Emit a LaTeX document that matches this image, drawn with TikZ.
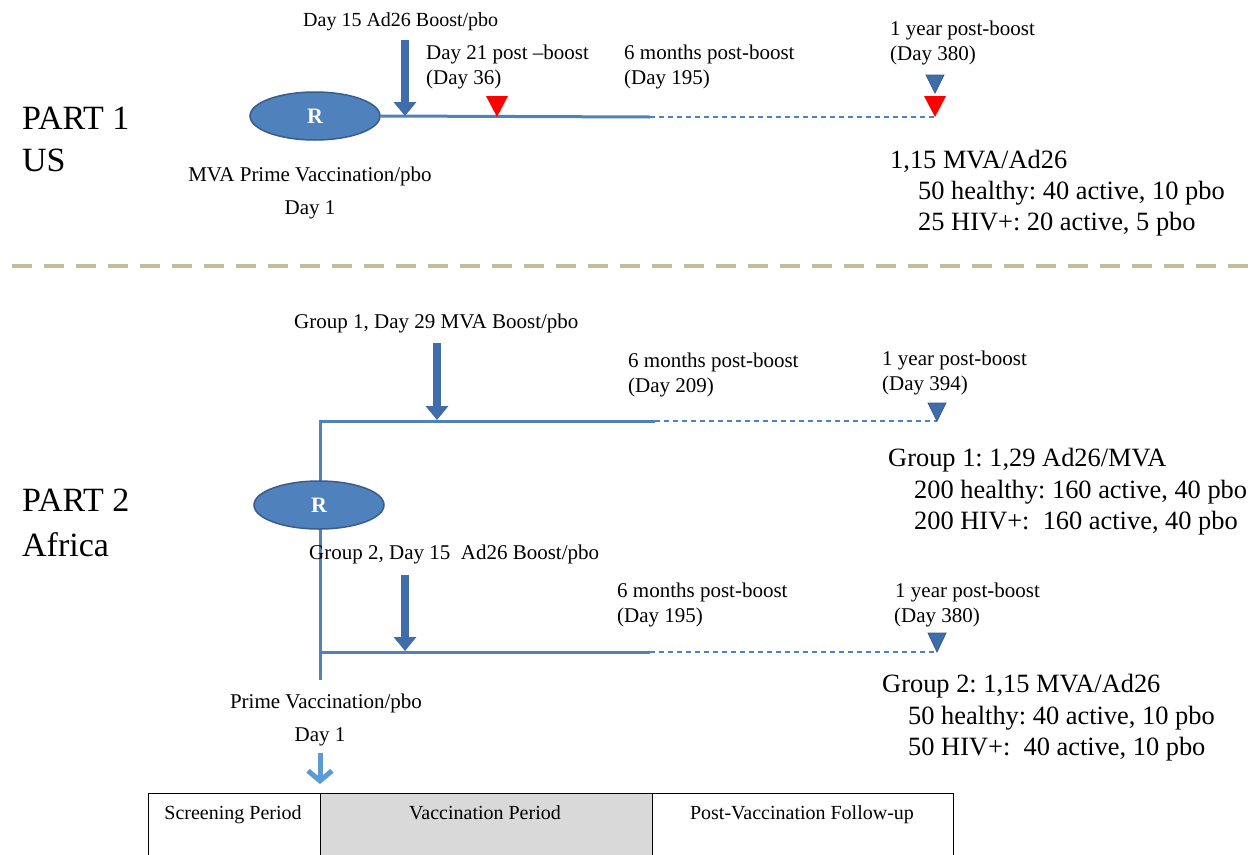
\documentclass[tikz,border=0pt]{standalone}
\usepackage{fontspec}
\setmainfont{Liberation Serif}
\usetikzlibrary{shapes.geometric,arrows.meta}
\frenchspacing
\definecolor{lineblue}{HTML}{4F81BD}
\definecolor{arrowblue}{HTML}{3F6CAA}
\definecolor{darkblue}{HTML}{385D8A}
\definecolor{sepcol}{HTML}{C4BD97}
\definecolor{lightblue}{HTML}{5B9BD5}
\definecolor{graycell}{HTML}{D9D9D9}
\tikzset{
  lbl/.style={font=\fontsize{21}{24}\selectfont, inner sep=0pt, anchor=west, text height=16.8pt, text depth=2.9pt},
  lblc/.style={lbl, anchor=center},
  lblsm/.style={lbl, font=\fontsize{20}{23}\selectfont, text height=16pt, text depth=2.8pt},
  grp/.style={font=\fontsize{26.4}{30}\selectfont, inner sep=0pt, anchor=west, text height=21.1pt, text depth=3.7pt},
  part/.style={font=\fontsize{34}{38}\selectfont, inner sep=0pt, anchor=west, text height=27.2pt, text depth=4.8pt},
  cell/.style={font=\fontsize{20}{23}\selectfont, inner sep=0pt, anchor=center, text height=16pt, text depth=2.8pt},
  rnode/.style={ellipse, draw=darkblue, line width=1.5pt, fill=lineblue, minimum width=130pt, minimum height=48pt, inner sep=0pt, text=white, font=\fontsize{22}{24}\selectfont\bfseries},
  solidline/.style={draw=lineblue, line width=3pt},
  dashline/.style={draw=lineblue, line width=1.3pt, dash pattern=on 5pt off 4pt},
  boost/.style={draw=arrowblue, line width=8pt, -{Triangle[width=22pt,length=14pt]}},
  bluetri/.style={fill=arrowblue, draw=darkblue, line width=0.8pt},
  redtri/.style={fill=red},
}
\begin{document}
\begin{tikzpicture}[x=1pt,y=-1pt]
\useasboundingbox (0,0) rectangle (1257,854);
\fill[white] (0,0) rectangle (1257,854);

% ---------------- PART 1 ----------------
\node[part] (p1a) at (22,118) {PART 1};
\node[part] (p1b) at (22,160) {US};

\coordinate (p1solid) at (650,117);
\coordinate (p1end) at (935,117);
\node[rnode] (R1) at (315,116) {R};
\draw[solidline] (R1.east) -- (p1solid);
\draw[dashline] (p1solid) -- (p1end);

\coordinate (a1top) at (405,40);
\coordinate (a1tip) at (405,116);
\draw[boost] (a1top) -- (a1tip);

\path[redtri] (497,117) -- (486,96) -- (508,96) -- cycle;
\path[bluetri] (935,93) -- (926,75) -- (944,75) -- cycle;
\path[redtri] (935,117) -- (924,96) -- (946,96) -- cycle;

\node[lblsm] (t1) at (303,20) {Day 15 Ad26 Boost/pbo};
\node[lbl] (t2) at (426,53) {Day 21 post –boost};
\node[lbl] (t3) at (426,78) {(Day 36)};
\node[lbl] (t4) at (624,53) {6 months post-boost};
\node[lbl] (t5) at (624,78) {(Day 195)};
\node[lbl] (t6) at (890,29) {1 year post-boost};
\node[lbl] (t7) at (890,54) {(Day 380)};
\node[lblc] (t8) at (310,175) {MVA Prime Vaccination/pbo};
\node[lblc] (t9) at (310,208) {Day 1};
\node[grp] (g1a) at (890,160) {1,15 MVA/Ad26};
\node[grp] (g1b) at (918,191) {50 healthy: 40 active, 10 pbo};
\node[grp] (g1c) at (918,222) {25 HIV+: 20 active, 5 pbo};

% separator
\coordinate (sepL) at (12,266);
\coordinate (sepR) at (1257,266);
\draw[draw=sepcol, line width=4pt, dash pattern=on 20pt off 12pt] (sepL) -- (sepR);

% ---------------- PART 2 ----------------
\node[part] (p2a) at (22,500) {PART 2};
\node[part] (p2b) at (22,545) {Africa};

\coordinate (vtop) at (320,421);
\coordinate (vbot) at (320,680);
\coordinate (vlow) at (320,652);
\coordinate (g1solid) at (655,421);
\coordinate (g1end) at (937,421);
\coordinate (g2solid) at (650,652);
\coordinate (g2end) at (937,652);
\draw[solidline] (vbot) -- (vtop) -- (g1solid);
\draw[dashline] (g1solid) -- (g1end);
\draw[solidline] (vlow) -- (g2solid);
\draw[dashline] (g2solid) -- (g2end);
\node[rnode] (R2) at (319,505) {R};

\coordinate (a2top) at (437,343);
\coordinate (a2tip) at (437,420);
\draw[boost] (a2top) -- (a2tip);
\coordinate (a3top) at (405,575);
\coordinate (a3tip) at (405,651);
\draw[boost] (a3top) -- (a3tip);

\path[bluetri] (937,421) -- (928,403) -- (946,403) -- cycle;
\path[bluetri] (937,652) -- (928,633) -- (946,633) -- cycle;

\node[lbl] (u1) at (294,322) {Group 1, Day 29 MVA Boost/pbo};
\node[lbl] (u2) at (628,361) {6 months post-boost};
\node[lbl] (u3) at (628,386) {(Day 209)};
\node[lbl] (u4) at (882,359) {1 year post-boost};
\node[lbl] (u5) at (882,384) {(Day 394)};
\node[grp] (h1a) at (888,458) {Group 1: 1,29 Ad26/MVA};
\node[grp] (h1b) at (914,490) {200 healthy: 160 active, 40 pbo};
\node[grp] (h1c) at (914,521) {200 HIV+:\ \ 160 active, 40 pbo};

\node[lbl] (u6) at (309,553) {Group 2, Day 15\ \ Ad26 Boost/pbo};
\node[lbl] (u7) at (617,591) {6 months post-boost};
\node[lbl] (u8) at (617,616) {(Day 195)};
\node[lbl] (u9) at (895,591) {1 year post-boost};
\node[lbl] (u10) at (894,616) {(Day 380)};
\node[grp] (h2a) at (882,684) {Group 2: 1,15 MVA/Ad26};
\node[grp] (h2b) at (908,716) {50 healthy: 40 active, 10 pbo};
\node[grp] (h2c) at (908,747) {50 HIV+:\ \ 40 active, 10 pbo};

\node[lblc] (u11) at (326,702) {Prime Vaccination/pbo};
\node[lblc] (u12) at (320,735) {Day 1};

\coordinate (sa1) at (320,753);
\coordinate (sa2) at (320,784);
\draw[draw=lightblue, line width=5pt, -{Straight Barb[length=10pt,width=24pt,line width=5pt]}] (sa1) -- (sa2);

% table
\fill[graycell] (320,793) rectangle (652,860);
\draw[black, line width=0.8pt] (148,860) -- (148,793) -- (953,793) -- (953,860);
\draw[black, line width=0.8pt] (320,793) -- (320,860);
\draw[black, line width=0.8pt] (652,793) -- (652,860);
\node[cell] (c1) at (233,813) {Screening Period};
\node[cell] (c2) at (485,813) {Vaccination Period};
\node[cell] (c3) at (802,813) {Post-Vaccination Follow-up};
\end{tikzpicture}
\end{document}
